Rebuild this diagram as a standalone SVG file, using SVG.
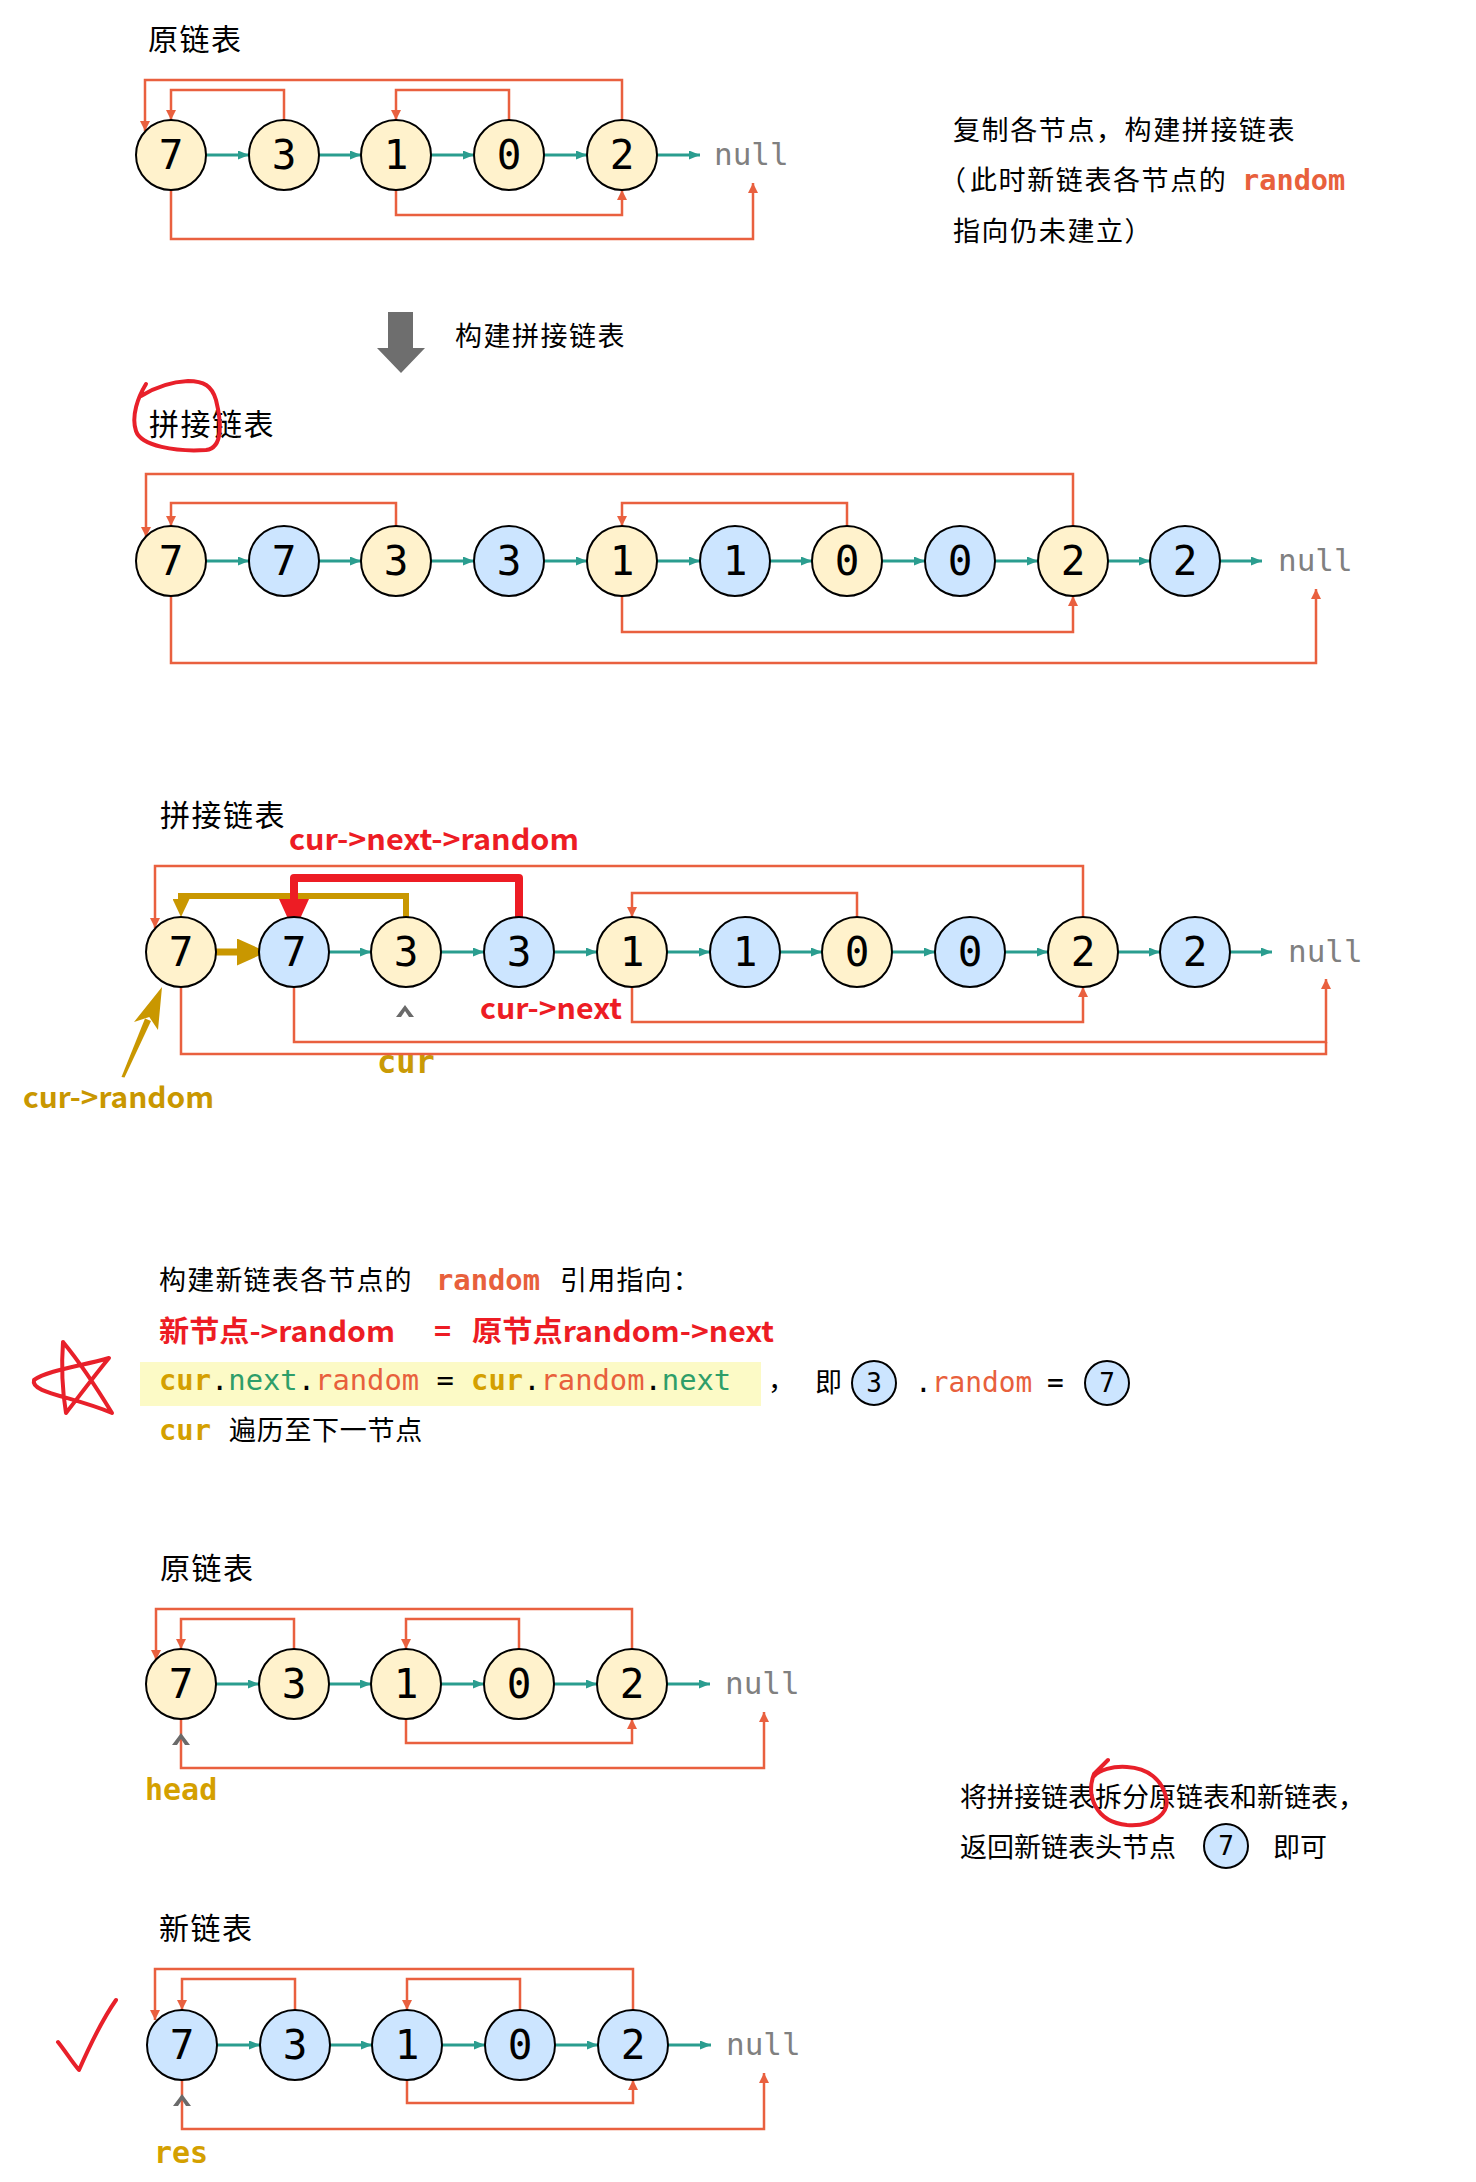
<svg xmlns="http://www.w3.org/2000/svg" width="1476" height="2182" viewBox="0 0 1476 2182">
<style>
.bg{fill:#ffffff}
.yel{fill:#FFF2CC;stroke:#000;stroke-width:2}
.blu{fill:#CCE5FF;stroke:#000;stroke-width:2}
.dg{font-family:"DejaVu Sans Mono",monospace;font-size:41px;text-anchor:middle;fill:#000}
.sd{font-family:"DejaVu Sans Mono",monospace;font-size:26px;text-anchor:middle;fill:#000}
.nl{font-family:"DejaVu Sans Mono",monospace;font-size:31px;fill:#808080}
.nx{stroke:#2A9D8F;stroke-width:3;fill:none;marker-end:url(#ta)}
.rd{stroke:#E9603F;stroke-width:2.5;fill:none;marker-end:url(#ra)}
.rdn{stroke:#E9603F;stroke-width:2.5;fill:none}
.ttl{font-family:"Noto Sans CJK SC",sans-serif;font-size:30px;letter-spacing:1.5px;fill:#000}
.cn{font-family:"Noto Sans CJK SC",sans-serif;font-size:27px;fill:#000}
.lb{font-family:"Noto Sans CJK SC",sans-serif;font-weight:bold;font-size:29px}
.mono{font-family:"DejaVu Sans Mono",monospace;white-space:pre}
.mb{font-family:"DejaVu Sans Mono",monospace;font-weight:bold}
.gold{fill:#D4A000}
.org{fill:#E8603C}
.grn{fill:#2E9E69}
.red{fill:#ED1C24}
.hand{fill:none;stroke:#E8202A;stroke-width:4;stroke-linecap:round;stroke-linejoin:round}
.caret{fill:#6A6A6A}
</style>
<defs>
<marker id="ta" markerUnits="userSpaceOnUse" markerWidth="11" markerHeight="9" refX="11" refY="4.5" orient="auto"><path d="M0,0 L11,4.5 L0,9 z" fill="#2A9D8F"/></marker>
<marker id="ra" markerUnits="userSpaceOnUse" markerWidth="10" markerHeight="10" refX="10" refY="5" orient="auto"><path d="M0,0 L10,5 L0,10 z" fill="#E9603F"/></marker>
<marker id="gs" markerUnits="userSpaceOnUse" markerWidth="18" markerHeight="17" refX="6" refY="8.5" orient="auto"><path d="M0,0 L18,8.5 L0,17 z" fill="#C99700"/></marker>
<marker id="gb" markerUnits="userSpaceOnUse" markerWidth="30" markerHeight="27" refX="10" refY="13.5" orient="auto"><path d="M0,0 L30,13.5 L0,27 z" fill="#C99700"/></marker>
<marker id="rb" markerUnits="userSpaceOnUse" markerWidth="33" markerHeight="30" refX="10" refY="15" orient="auto"><path d="M0,0 L33,15 L0,30 z" fill="#ED1C24"/></marker>
</defs>
<rect class="bg" x="0" y="0" width="1476" height="2182"/>

<!-- ===== Section 1: 原链表 ===== -->
<text class="ttl" x="148" y="50">原链表</text>
<g id="s1-connectors">
<path class="nx" d="M206,155 H249"/><path class="nx" d="M319,155 H361"/><path class="nx" d="M431,155 H474"/><path class="nx" d="M544,155 H587"/><path class="nx" d="M657,155 H700"/>
<path class="rd" d="M622,120 V80 H145 V131"/>
<path class="rd" d="M284,120 V90 H171 V120"/>
<path class="rd" d="M509,120 V90 H396 V120"/>
<path class="rd" d="M396,190 V215 H622 V190"/>
<path class="rd" d="M171,190 V239 H753 V183"/>
</g>
<g id="s1-n7"><circle class="yel" cx="171" cy="155" r="35"/><text class="dg" x="171" y="169">7</text></g>
<g id="s1-n3"><circle class="yel" cx="284" cy="155" r="35"/><text class="dg" x="284" y="169">3</text></g>
<g id="s1-n1"><circle class="yel" cx="396" cy="155" r="35"/><text class="dg" x="396" y="169">1</text></g>
<g id="s1-n0"><circle class="yel" cx="509" cy="155" r="35"/><text class="dg" x="509" y="169">0</text></g>
<g id="s1-n2"><circle class="yel" cx="622" cy="155" r="35"/><text class="dg" x="622" y="169">2</text></g>
<text class="nl" x="714" y="165">null</text>

<g id="s1-note">
<text class="cn" x="953" y="140" style="letter-spacing:1.6px">复制各节点，构建拼接链表</text>
<text class="cn" x="939" y="190">（</text>
<text class="cn" x="970" y="190" style="letter-spacing:1.6px">此时新链表各节点的</text>
<text class="mb org" x="1242" y="190" font-size="28.6">random</text>
<text class="cn" x="953" y="241" style="letter-spacing:1.6px">指向仍未建立）</text>
</g>

<g id="build-arrow">
<path d="M388,312 H413 V348 H425 L401,373 L377,348 H388 Z" fill="#6E6E6E"/>
<text class="cn" x="455" y="346" font-size="26" style="letter-spacing:1.5px">构建拼接链表</text>
</g>

<!-- ===== Section 2: 拼接链表 ===== -->
<text class="ttl" x="149" y="435">拼接链表</text>
<path class="hand" d="M146,384 C138,397 131,416 136,431 C141,446 176,452 206,450 C224,448 221,420 216,400 C212,386 204,381 188,381 C168,382 154,388 141,396"/>
<g id="s2-connectors">
<path class="nx" d="M206,561 H249"/><path class="nx" d="M319,561 H361"/><path class="nx" d="M431,561 H474"/><path class="nx" d="M544,561 H587"/><path class="nx" d="M657,561 H700"/><path class="nx" d="M770,561 H812"/><path class="nx" d="M882,561 H925"/><path class="nx" d="M995,561 H1038"/><path class="nx" d="M1108,561 H1150"/><path class="nx" d="M1220,561 H1262"/>
<path class="rd" d="M1073,526 V474 H146 V537"/>
<path class="rd" d="M396,526 V503 H171 V526"/>
<path class="rd" d="M847,526 V503 H622 V526"/>
<path class="rd" d="M622,596 V632 H1073 V596"/>
<path class="rd" d="M171,596 V663 H1316 V589"/>
</g>
<g id="s2-n7a"><circle class="yel" cx="171" cy="561" r="35"/><text class="dg" x="171" y="575">7</text></g>
<g id="s2-n7b"><circle class="blu" cx="284" cy="561" r="35"/><text class="dg" x="284" y="575">7</text></g>
<g id="s2-n3a"><circle class="yel" cx="396" cy="561" r="35"/><text class="dg" x="396" y="575">3</text></g>
<g id="s2-n3b"><circle class="blu" cx="509" cy="561" r="35"/><text class="dg" x="509" y="575">3</text></g>
<g id="s2-n1a"><circle class="yel" cx="622" cy="561" r="35"/><text class="dg" x="622" y="575">1</text></g>
<g id="s2-n1b"><circle class="blu" cx="735" cy="561" r="35"/><text class="dg" x="735" y="575">1</text></g>
<g id="s2-n0a"><circle class="yel" cx="847" cy="561" r="35"/><text class="dg" x="847" y="575">0</text></g>
<g id="s2-n0b"><circle class="blu" cx="960" cy="561" r="35"/><text class="dg" x="960" y="575">0</text></g>
<g id="s2-n2a"><circle class="yel" cx="1073" cy="561" r="35"/><text class="dg" x="1073" y="575">2</text></g>
<g id="s2-n2b"><circle class="blu" cx="1185" cy="561" r="35"/><text class="dg" x="1185" y="575">2</text></g>
<text class="nl" x="1278" y="571">null</text>

<!-- ===== Section 3: 拼接链表 with cur ===== -->
<text class="ttl" x="160" y="826">拼接链表</text>
<text class="lb red" x="289" y="850" textLength="290" lengthAdjust="spacingAndGlyphs">cur-&gt;next-&gt;random</text>
<text class="mb" x="377" y="1073" font-size="32" fill="#C99A06">cur</text>
<g id="s3-connectors">
<path class="nx" d="M329,952 H371"/><path class="nx" d="M441,952 H484"/><path class="nx" d="M554,952 H597"/><path class="nx" d="M667,952 H710"/><path class="nx" d="M780,952 H822"/><path class="nx" d="M892,952 H935"/><path class="nx" d="M1005,952 H1048"/><path class="nx" d="M1118,952 H1160"/><path class="nx" d="M1230,952 H1272"/>
<path class="rd" d="M1083,917 V866 H155 V928"/>
<path class="rd" d="M857,917 V893 H632 V917"/>
<path class="rd" d="M632,987 V1022 H1083 V987"/>
<path class="rd" d="M294,987 V1042 H1326 V979"/>
<path class="rdn" d="M181,987 V1054 H1326 V1042"/>
<path d="M406,917 V896 H181 V905" fill="none" stroke="#C99700" stroke-width="6" marker-end="url(#gs)"/>
<path d="M519,917 V878 H294 V909" fill="none" stroke="#ED1C24" stroke-width="8" stroke-linejoin="round" marker-end="url(#rb)"/>
<path d="M211,952 H247" fill="none" stroke="#C99700" stroke-width="7" marker-end="url(#gb)"/>
<polygon points="121.5,1077 124.5,1077.5 151,1021 145,1018.5" fill="#C99700"/>
<polygon points="162,987 158,1030 149.3,1017 134,1022" fill="#C99700"/>
</g>
<g id="s3-n7a"><circle class="yel" cx="181" cy="952" r="35"/><text class="dg" x="181" y="966">7</text></g>
<g id="s3-n7b"><circle class="blu" cx="294" cy="952" r="35"/><text class="dg" x="294" y="966">7</text></g>
<g id="s3-n3a"><circle class="yel" cx="406" cy="952" r="35"/><text class="dg" x="406" y="966">3</text></g>
<g id="s3-n3b"><circle class="blu" cx="519" cy="952" r="35"/><text class="dg" x="519" y="966">3</text></g>
<g id="s3-n1a"><circle class="yel" cx="632" cy="952" r="35"/><text class="dg" x="632" y="966">1</text></g>
<g id="s3-n1b"><circle class="blu" cx="745" cy="952" r="35"/><text class="dg" x="745" y="966">1</text></g>
<g id="s3-n0a"><circle class="yel" cx="857" cy="952" r="35"/><text class="dg" x="857" y="966">0</text></g>
<g id="s3-n0b"><circle class="blu" cx="970" cy="952" r="35"/><text class="dg" x="970" y="966">0</text></g>
<g id="s3-n2a"><circle class="yel" cx="1083" cy="952" r="35"/><text class="dg" x="1083" y="966">2</text></g>
<g id="s3-n2b"><circle class="blu" cx="1195" cy="952" r="35"/><text class="dg" x="1195" y="966">2</text></g>
<text class="nl" x="1288" y="962">null</text>
<path class="caret" d="M405,1005 L414,1017 L409,1017 L405,1011 L401,1017 L396,1017 Z"/>
<text class="lb red" x="480" y="1019" textLength="142" lengthAdjust="spacingAndGlyphs">cur-&gt;next</text>
<text class="lb" x="23" y="1108" fill="#C99700" textLength="191" lengthAdjust="spacingAndGlyphs">cur-&gt;random</text>

<!-- ===== Section 4: explanation ===== -->
<g id="s4-text">
<text class="cn" x="159" y="1290" style="letter-spacing:1.2px">构建新链表各节点的</text>
<text class="mb org" x="436" y="1290" font-size="28.8">random</text>
<text class="cn" x="560" y="1290" style="letter-spacing:1.2px">引用指向：</text>
<text class="lb red" x="159" y="1342" font-size="30" textLength="236" lengthAdjust="spacingAndGlyphs">新节点-&gt;random</text>
<text class="lb red" x="434" y="1342" font-size="30">=</text>
<text class="lb red" x="472" y="1342" font-size="30" textLength="302" lengthAdjust="spacingAndGlyphs">原节点random-&gt;next</text>
<rect x="140" y="1362" width="621" height="44" fill="#FCFAC6"/>
<text class="mono" x="159" y="1390" font-size="28.8"><tspan class="mb gold">cur</tspan>.<tspan class="grn">next</tspan>.<tspan class="org">random</tspan> = <tspan class="mb gold">cur</tspan>.<tspan class="org">random</tspan>.<tspan class="grn">next</tspan></text>
<text class="cn" x="768" y="1390">，</text>
<text class="cn" x="815" y="1392">即</text>
<g id="s4-c3"><circle class="blu" cx="874" cy="1383" r="22"/><text class="sd" x="874" y="1392">3</text></g>
<text class="mono" x="915" y="1392" font-size="27.8">.<tspan class="org">random</tspan></text>
<text class="mono" x="1047" y="1392" font-size="27.8">=</text>
<g id="s4-c7"><circle class="blu" cx="1107" cy="1383" r="22"/><text class="sd" x="1107" y="1392">7</text></g>
<text class="mb gold" x="159" y="1440" font-size="28.8">cur</text>
<text class="cn" x="229" y="1440" style="letter-spacing:0.7px">遍历至下一节点</text>
</g>
<path class="hand" d="M63,1342 C61,1370 63,1395 66,1413 C80,1395 95,1375 109,1358 C82,1366 48,1370 34,1380 C30,1393 72,1396 112,1413 C98,1390 82,1365 63,1342"/>

<!-- ===== Section 5: 原链表 (head) ===== -->
<text class="ttl" x="160" y="1579">原链表</text>
<g id="s5-connectors">
<path class="nx" d="M216,1684 H259"/><path class="nx" d="M329,1684 H371"/><path class="nx" d="M441,1684 H484"/><path class="nx" d="M554,1684 H597"/><path class="nx" d="M667,1684 H710"/>
<path class="rd" d="M632,1649 V1609 H156 V1660"/>
<path class="rd" d="M294,1649 V1619 H181 V1649"/>
<path class="rd" d="M519,1649 V1619 H406 V1649"/>
<path class="rd" d="M406,1719 V1743 H632 V1719"/>
<path class="rd" d="M181,1719 V1768 H764 V1712"/>
</g>
<g id="s5-n7"><circle class="yel" cx="181" cy="1684" r="35"/><text class="dg" x="181" y="1698">7</text></g>
<g id="s5-n3"><circle class="yel" cx="294" cy="1684" r="35"/><text class="dg" x="294" y="1698">3</text></g>
<g id="s5-n1"><circle class="yel" cx="406" cy="1684" r="35"/><text class="dg" x="406" y="1698">1</text></g>
<g id="s5-n0"><circle class="yel" cx="519" cy="1684" r="35"/><text class="dg" x="519" y="1698">0</text></g>
<g id="s5-n2"><circle class="yel" cx="632" cy="1684" r="35"/><text class="dg" x="632" y="1698">2</text></g>
<text class="nl" x="725" y="1694">null</text>
<path class="caret" d="M181,1733 L190,1745 L185,1745 L181,1739 L177,1745 L172,1745 Z"/>
<text class="mb gold" x="145" y="1800" font-size="30">head</text>

<g id="s5-note">
<text class="cn" x="960" y="1807">将拼接链表拆分原链表和新链表，</text>
<text class="cn" x="960" y="1857">返回新链表头节点</text>
<g id="s5-c7"><circle class="blu" cx="1226" cy="1846" r="22"/><text class="sd" x="1226" y="1855">7</text></g>
<text class="cn" x="1273" y="1857">即可</text>
</g>
<path class="hand" d="M1108,1760 L1094,1774 C1086,1795 1095,1822 1127,1825 C1155,1827 1170,1812 1166,1797 C1162,1780 1148,1768 1127,1767 C1112,1766 1100,1770 1094,1776"/>

<!-- ===== Section 6: 新链表 (res) ===== -->
<text class="ttl" x="159" y="1939">新链表</text>
<g id="s6-connectors">
<path class="nx" d="M217,2045 H260"/><path class="nx" d="M330,2045 H372"/><path class="nx" d="M442,2045 H485"/><path class="nx" d="M555,2045 H598"/><path class="nx" d="M668,2045 H711"/>
<path class="rd" d="M633,2010 V1969 H155 V2020"/>
<path class="rd" d="M295,2010 V1979 H182 V2010"/>
<path class="rd" d="M520,2010 V1979 H407 V2010"/>
<path class="rd" d="M407,2080 V2103 H633 V2080"/>
<path class="rd" d="M182,2080 V2129 H764 V2073"/>
</g>
<g id="s6-n7"><circle class="blu" cx="182" cy="2045" r="35"/><text class="dg" x="182" y="2059">7</text></g>
<g id="s6-n3"><circle class="blu" cx="295" cy="2045" r="35"/><text class="dg" x="295" y="2059">3</text></g>
<g id="s6-n1"><circle class="blu" cx="407" cy="2045" r="35"/><text class="dg" x="407" y="2059">1</text></g>
<g id="s6-n0"><circle class="blu" cx="520" cy="2045" r="35"/><text class="dg" x="520" y="2059">0</text></g>
<g id="s6-n2"><circle class="blu" cx="633" cy="2045" r="35"/><text class="dg" x="633" y="2059">2</text></g>
<text class="nl" x="726" y="2055">null</text>
<path class="caret" d="M182,2094 L191,2106 L186,2106 L182,2100 L178,2106 L173,2106 Z"/>
<text class="mb gold" x="154" y="2163" font-size="30">res</text>
<path class="hand" d="M58,2042 C66,2052 72,2062 79,2070 C90,2045 102,2020 116,2000"/>
</svg>
